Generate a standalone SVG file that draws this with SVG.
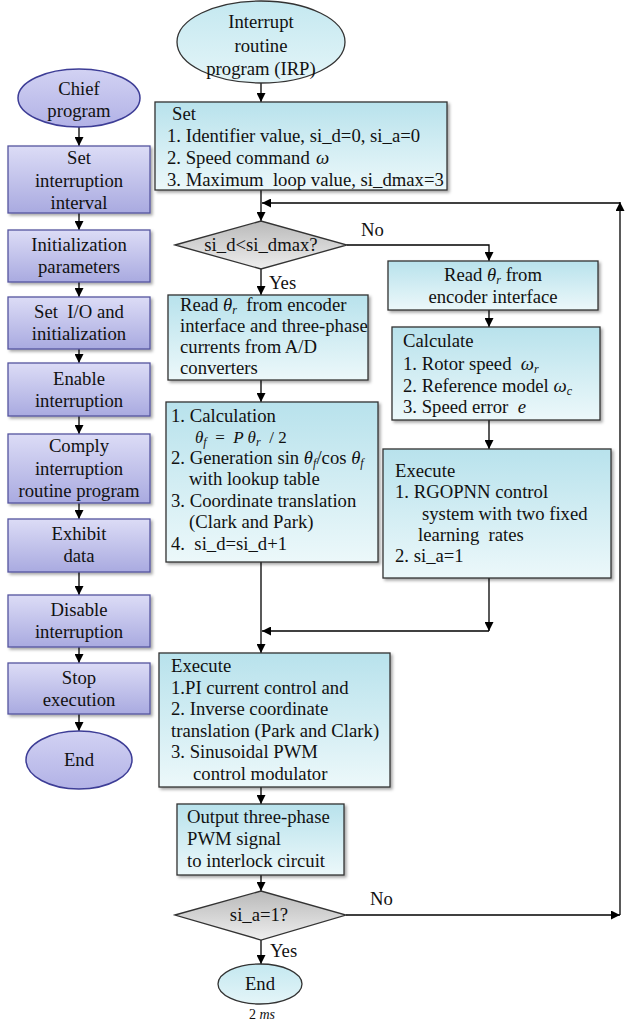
<svg xmlns="http://www.w3.org/2000/svg" width="626" height="1025" viewBox="0 0 626 1025">
<defs>
<linearGradient id="gMain" x1="0" y1="0" x2="0" y2="1"><stop offset="0" stop-color="#b8e2ec"/><stop offset="1" stop-color="#ecf8fa"/></linearGradient>
<linearGradient id="gLeft" x1="0" y1="0" x2="0" y2="1"><stop offset="0" stop-color="#dcdcf6"/><stop offset="1" stop-color="#a9aae0"/></linearGradient>
<linearGradient id="gLeftE" x1="0" y1="0" x2="0" y2="1"><stop offset="0" stop-color="#d2d2f3"/><stop offset="1" stop-color="#b2b2e6"/></linearGradient>
<linearGradient id="gEll" x1="0" y1="0" x2="0" y2="1"><stop offset="0" stop-color="#c4e8f0"/><stop offset="1" stop-color="#e4f5f8"/></linearGradient>
<linearGradient id="gDia" x1="0" y1="0" x2="0" y2="1"><stop offset="0" stop-color="#b9b9b9"/><stop offset="1" stop-color="#eeeeee"/></linearGradient>
<filter id="sh" x="-10%" y="-10%" width="125%" height="130%"><feDropShadow dx="2" dy="2" stdDeviation="1.5" flood-color="#000" flood-opacity="0.35"/></filter>
<marker id="ah" markerUnits="userSpaceOnUse" markerWidth="9" markerHeight="9" refX="9" refY="4.5" orient="auto"><path d="M0,0 L9,4.5 L0,9 z" fill="#000"/></marker>
<style>
text{font-family:"Liberation Serif","Times New Roman",serif;font-size:18.7px;fill:#111}
.c{text-anchor:middle}
.p{white-space:pre}
.i{font-style:italic}
.sub{font-size:12px;font-style:italic}
.box{fill:url(#gMain);stroke:#333;stroke-width:1.3;filter:url(#sh)}
.lbox{fill:url(#gLeft);stroke:#55559f;stroke-width:1.3;filter:url(#sh)}
.lell{fill:url(#gLeftE);stroke:#3d3d96;stroke-width:1.5}
.ell{fill:url(#gEll);stroke:#333;stroke-width:1.3}
.dia{fill:url(#gDia);stroke:#333;stroke-width:1.3}
.ar{stroke:#000;stroke-width:1.3;fill:none;marker-end:url(#ah)}
</style>
</defs>

<g id="connectors">
<line class="ar" x1="79" y1="127" x2="79" y2="146"/>
<line class="ar" x1="79" y1="213" x2="79" y2="230"/>
<line class="ar" x1="79" y1="282" x2="79" y2="297"/>
<line class="ar" x1="79" y1="349" x2="79" y2="363"/>
<line class="ar" x1="79" y1="416" x2="79" y2="434"/>
<line class="ar" x1="79" y1="503" x2="79" y2="519"/>
<line class="ar" x1="79" y1="572" x2="79" y2="595"/>
<line class="ar" x1="79" y1="647" x2="79" y2="663"/>
<line class="ar" x1="79" y1="714" x2="79" y2="731"/>

<line class="ar" x1="261" y1="83" x2="261" y2="102"/>
<line class="ar" x1="261" y1="190" x2="261" y2="221"/>
<line class="ar" x1="261" y1="269" x2="261" y2="295"/>
<line class="ar" x1="261" y1="380" x2="261" y2="402"/>
<line class="ar" x1="261" y1="562" x2="261" y2="653"/>
<line class="ar" x1="261" y1="787" x2="261" y2="804"/>
<line class="ar" x1="261" y1="875" x2="261" y2="891"/>
<line class="ar" x1="261" y1="940" x2="261" y2="964"/>

<polyline class="ar" points="347,245 489,245 489,261"/>
<line class="ar" x1="489" y1="310" x2="489" y2="327"/>
<line class="ar" x1="489" y1="420" x2="489" y2="449"/>
<line class="ar" x1="489" y1="578" x2="489" y2="631"/>
<line class="ar" x1="489" y1="631" x2="262" y2="631"/>

<line class="ar" x1="346" y1="915" x2="620" y2="915"/>
<line class="ar" x1="620" y1="915" x2="620" y2="202"/>
<line class="ar" x1="620" y1="203" x2="262" y2="203"/>

<text x="361" y="236">No</text>
<text x="269" y="289">Yes</text>
<text x="370" y="905">No</text>
<text x="270" y="957">Yes</text>
</g>

<g id="chief">
<ellipse class="lell" cx="79" cy="98" rx="61" ry="29"/>
<text class="c" x="79" y="95">Chief</text>
<text class="c" x="79" y="117">program</text>
</g>
<g id="setInterval">
<rect class="lbox" x="8" y="146" width="142" height="67"/>
<text class="c" x="79" y="164">Set</text>
<text class="c" x="79" y="187">interruption</text>
<text class="c" x="79" y="209">interval</text>
</g>
<g id="initParams">
<rect class="lbox" x="8" y="230" width="142" height="52"/>
<text class="c" x="79" y="251">Initialization</text>
<text class="c" x="79" y="273">parameters</text>
</g>
<g id="setIO">
<rect class="lbox" x="8" y="297" width="142" height="52"/>
<text class="c p" x="79" y="318">Set  I/O and</text>
<text class="c" x="79" y="340">initialization</text>
</g>
<g id="enable">
<rect class="lbox" x="8" y="363" width="142" height="53"/>
<text class="c" x="79" y="385">Enable</text>
<text class="c" x="79" y="407">interruption</text>
</g>
<g id="comply">
<rect class="lbox" x="8" y="434" width="142" height="69"/>
<text class="c" x="79" y="452">Comply</text>
<text class="c" x="79" y="475">interruption</text>
<text class="c" x="79" y="497">routine program</text>
</g>
<g id="exhibit">
<rect class="lbox" x="8" y="519" width="142" height="53"/>
<text class="c" x="79" y="540">Exhibit</text>
<text class="c" x="79" y="562">data</text>
</g>
<g id="disable">
<rect class="lbox" x="8" y="595" width="142" height="52"/>
<text class="c" x="79" y="616">Disable</text>
<text class="c" x="79" y="638">interruption</text>
</g>
<g id="stop">
<rect class="lbox" x="8" y="663" width="142" height="51"/>
<text class="c" x="79" y="684">Stop</text>
<text class="c" x="79" y="706">execution</text>
</g>
<g id="endLeft">
<ellipse class="lell" cx="79" cy="760" rx="53" ry="29"/>
<text class="c" x="79" y="766">End</text>
</g>

<g id="irp">
<ellipse class="ell" cx="261" cy="42" rx="84" ry="41"/>
<text class="c" x="261" y="28">Interrupt</text>
<text class="c" x="261" y="52">routine</text>
<text class="c" x="261" y="75">program (IRP)</text>
</g>
<g id="setBox">
<rect class="box" x="155" y="102" width="292" height="88"/>
<text x="172" y="120">Set</text>
<text class="p" x="167" y="142">1. Identifier value, si_d=0, si_a=0</text>
<text x="167" y="164">2. Speed command <tspan class="i" x="316">ω</tspan></text>
<text class="p" x="167" y="186">3. Maximum  loop value, si_dmax=3</text>
</g>
<g id="decision1">
<polygon class="dia" points="175,245 261,221 347,245 261,269"/>
<text class="c" x="261" y="251">si_d&lt;si_dmax?</text>
</g>
<g id="readLeft">
<rect class="box" x="168" y="295" width="200" height="85"/>
<text class="p" x="180" y="311">Read <tspan class="i">θ</tspan><tspan class="sub" dy="3">r</tspan><tspan dy="-3">  from encoder</tspan></text>
<text x="180" y="332">interface and three-phase</text>
<text x="180" y="353">currents from A/D</text>
<text x="180" y="374">converters</text>
</g>
<g id="calcLeft">
<rect class="box" x="166" y="402" width="212" height="160"/>
<text x="171" y="422">1. Calculation</text>
<text class="p" x="195" y="443" style="font-size:17px"><tspan class="i">θ</tspan><tspan class="sub" dy="3">f</tspan><tspan dy="-3">  =  </tspan><tspan class="i">P θ</tspan><tspan class="sub" dy="3">r</tspan><tspan dy="-3">  / 2</tspan></text>
<text x="171" y="464">2. Generation sin <tspan class="i">θ</tspan><tspan class="sub" dy="3">f</tspan><tspan dy="-3">/cos </tspan><tspan class="i">θ</tspan><tspan class="sub" dy="3">f</tspan></text>
<text x="189" y="485">with lookup table</text>
<text x="171" y="507">3. Coordinate translation</text>
<text x="189" y="528">(Clark and Park)</text>
<text class="p" x="171" y="550">4.  si_d=si_d+1</text>
</g>
<g id="readRight">
<rect class="box" x="388" y="261" width="210" height="49"/>
<text class="c" x="493" y="281">Read <tspan class="i">θ</tspan><tspan class="sub" dy="3">r</tspan><tspan dy="-3"> from</tspan></text>
<text class="c" x="493" y="303">encoder interface</text>
</g>
<g id="calcRight">
<rect class="box" x="392" y="327" width="208" height="93"/>
<text x="403" y="347">Calculate</text>
<text class="p" x="403" y="370">1. Rotor speed  <tspan class="i">ω</tspan><tspan class="sub" dy="3">r</tspan></text>
<text x="403" y="392">2. Reference model <tspan class="i">ω</tspan><tspan class="sub" dy="3">c</tspan></text>
<text class="p" x="403" y="413">3. Speed error  <tspan class="i">e</tspan></text>
</g>
<g id="execRight">
<rect class="box" x="383" y="449" width="228" height="129"/>
<text x="395" y="477">Execute</text>
<text x="395" y="498">1. RGOPNN control</text>
<text x="422" y="520">system with two fixed</text>
<text class="p" x="418" y="541">learning  rates</text>
<text x="395" y="562">2. si_a=1</text>
</g>
<g id="execMain">
<rect class="box" x="159" y="653" width="231" height="134"/>
<text x="171" y="672">Execute</text>
<text x="171" y="694">1.PI current control and</text>
<text x="171" y="715">2. Inverse coordinate</text>
<text x="171" y="737">translation (Park and Clark)</text>
<text x="171" y="758">3. Sinusoidal PWM</text>
<text x="193" y="780">control modulator</text>
</g>
<g id="output">
<rect class="box" x="177" y="804" width="167" height="71"/>
<text x="187" y="823">Output three-phase</text>
<text x="187" y="845">PWM signal</text>
<text x="187" y="867">to interlock circuit</text>
</g>
<g id="decision2">
<polygon class="dia" points="175,915 261,891 346,915 261,940"/>
<text class="c" x="259" y="921">si_a=1?</text>
</g>
<g id="endMain">
<ellipse class="ell" cx="260" cy="984" rx="42" ry="20"/>
<text class="c" x="260" y="990">End</text>
<text class="c" x="262" y="1019" style="font-size:14px">2 <tspan class="i">ms</tspan></text>
</g>
</svg>
